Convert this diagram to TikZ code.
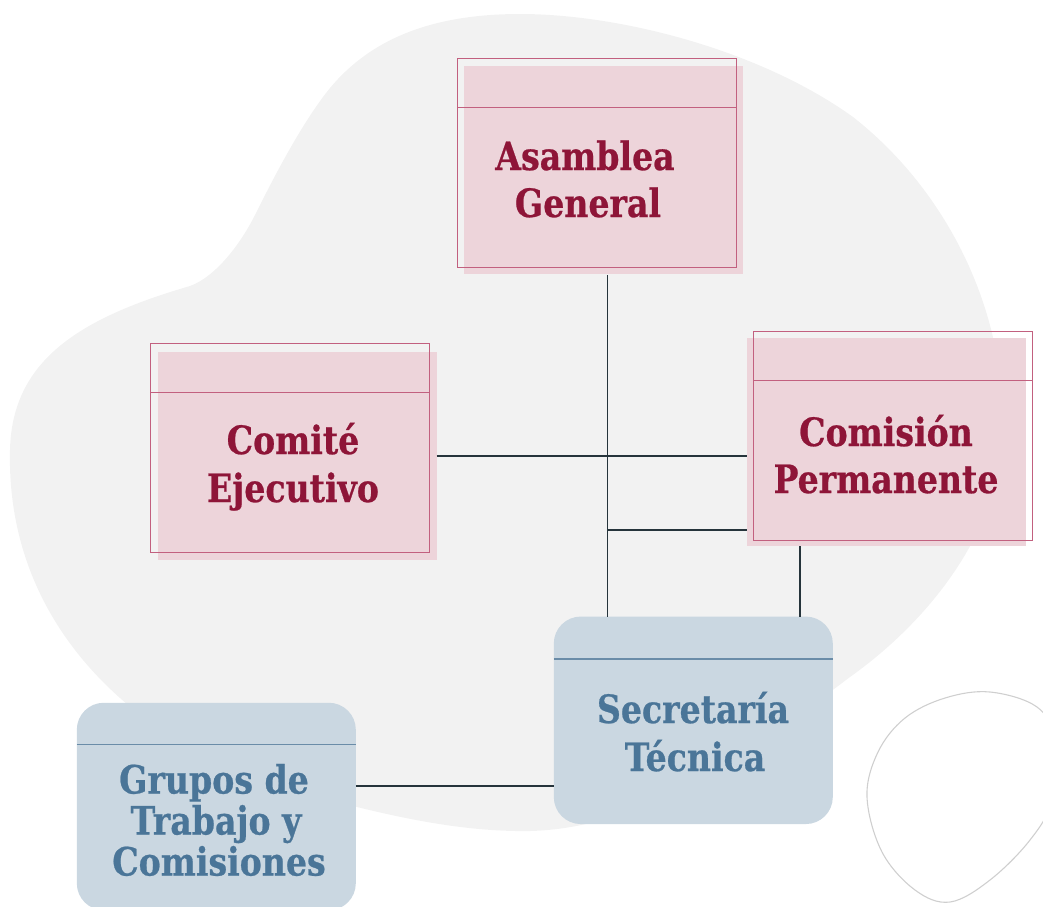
\documentclass[tikz,border=0pt]{standalone}
\usepackage{fontspec}
\newfontfamily\labfont{DejaVu Serif}[FakeStretch=0.85,FakeBold=0.6]
\definecolor{blobgray}{HTML}{F2F2F2}
\definecolor{pinkbg}{HTML}{EDD4DA}
\definecolor{pinkedge}{HTML}{C2607F}
\definecolor{crimson}{HTML}{8E1538}
\definecolor{bluebg}{HTML}{CAD7E1}
\definecolor{bluehead}{HTML}{6A8CA8}
\definecolor{bluetext}{HTML}{4A7598}
\definecolor{connc}{HTML}{26343B}
\definecolor{ringc}{HTML}{CFCFCF}
\begin{document}
\begin{tikzpicture}[x=1pt,y=-1pt,
  pinkfill/.style={rectangle, fill=pinkbg, minimum width=279pt, minimum height=208pt, inner sep=0pt, outer sep=0pt},
  pinkline/.style={rectangle, draw=pinkedge, line width=1.2pt, minimum width=279pt, minimum height=209pt, inner sep=0pt, outer sep=0pt},
  pinkhead/.style={draw=pinkedge, line width=1.2pt},
  pinktxt/.style={anchor=base, inner sep=0pt, text=crimson, font=\labfont\bfseries\fontsize{39}{47}\selectfont},
  bluebox/.style={rectangle, rounded corners=27pt, fill=bluebg, minimum width=279pt, minimum height=207.5pt, inner sep=0pt, outer sep=0pt},
  bluehead/.style={draw=bluehead, line width=1.5pt},
  bluetxt/.style={anchor=base, inner sep=0pt, text=bluetext, font=\labfont\bfseries\fontsize{39}{47}\selectfont},
  conn/.style={draw=connc, line width=1.4pt},
  ring/.style={draw=ringc, line width=1.1pt}]
\useasboundingbox (0,0) rectangle (1043,906);
\clip (0,0) rectangle (1043,906);
% background blob
\fill[blobgray] (190,286) .. controls (215,277) and (240,245) .. (255,215)
  .. controls (270,185) and (300,125) .. (330,88)
  .. controls (370,40) and (430,14) .. (520,14)
  .. controls (620,14) and (760,50) .. (853,117)
  .. controls (940,185) and (1005,300) .. (1003,430)
  .. controls (1001,530) and (930,620) .. (850,677)
  .. controls (760,745) and (650,828) .. (530,831)
  .. controls (470,832) and (410,820) .. (357,807)
  .. controls (190,780) and (5,660) .. (10,450)
  .. controls (12,360) and (80,318) .. (190,286) -- cycle;
% small ring
\draw[ring] plot[smooth cycle, tension=0.6] coordinates {
  (990,692) (1037,707) (1055,740) (1052,800) (1030,840) (990,880)
  (950,902) (915,890) (882,852) (867,797) (878,752) (905,718) (945,698)};
% pink boxes
\node[pinkfill] (ag) at (603.3,169.5) {};
\node[pinkline] (agbox) at (597,162.8) {};
\draw[pinkhead] ([yshift=-49.4pt]agbox.north west) -- ([yshift=-49.4pt]agbox.north east);
\node[pinktxt] (agt1) at (585,170) {Asamblea};
\node[pinktxt] (agt2) at (588,217) {General};

\node[pinkfill] (ce) at (297.2,455.8) {};
\node[pinkline] (cebox) at (290,447.8) {};
\draw[pinkhead] ([yshift=-49.4pt]cebox.north west) -- ([yshift=-49.4pt]cebox.north east);
\node[pinktxt] (cet1) at (293,454) {Comité};
\node[pinktxt] (cet2) at (293,502) {Ejecutivo};

\node[pinkfill] (cp) at (886.3,442) {};
\node[pinkline] (cpbox) at (892.7,435.8) {};
\draw[pinkhead] ([yshift=-49pt]cpbox.north west) -- ([yshift=-49pt]cpbox.north east);
\node[pinktxt] (cpt1) at (886,446) {Comisión};
\node[pinktxt] (cpt2) at (886,493) {Permanente};

% blue boxes
\node[bluebox] (st) at (693.3,720.3) {};
\draw[bluehead] ([yshift=-42.3pt]st.north west) -- ([yshift=-42.3pt]st.north east);
\node[bluetxt] (stt1) at (693,723) {Secretaría};
\node[bluetxt] (stt2) at (695,771) {Técnica};

\node[bluebox] (gt) at (216.3,806.5) {};
\draw[bluehead] ([yshift=-41.6pt]gt.north west) -- ([yshift=-41.6pt]gt.north east);
\node[bluetxt] (gtt1) at (214,793.5) {Grupos de};
\node[bluetxt] (gtt2) at (216,834.5) {Trabajo y};
\node[bluetxt] (gtt3) at (219,875.5) {Comisiones};

% connectors
\coordinate (v1) at (607.5,530);
\coordinate (v2) at (800,546);
\coordinate (h3) at (356,786);
\draw[conn] ([yshift=-1.7pt]ag.south -| v1) -- (st.north -| v1);
\draw[conn] (ce.east) -- (ce.east -| cp.west);
\draw[conn] (v1) -- (v1 -| cp.west);
\draw[conn] (cp.south -| v2) -- (st.north -| v2);
\draw[conn] (gt.east |- h3) -- (st.west |- h3);
\end{tikzpicture}
\end{document}
